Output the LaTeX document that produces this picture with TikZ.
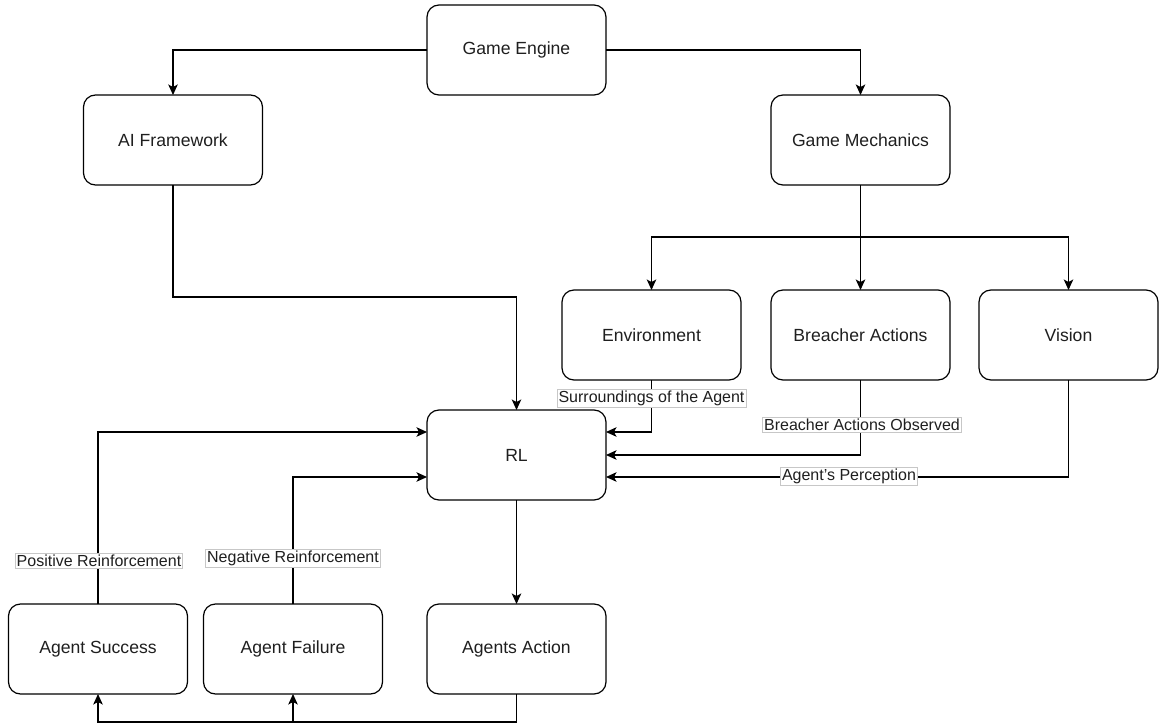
\documentclass[tikz,border=0pt]{standalone}
\usepackage{fontspec}
\setmainfont{Liberation Sans}
\usetikzlibrary{arrows.meta}
\tikzset{
  box/.style={draw=black, line width=1.2pt, rounded corners=12pt, minimum width=179pt, minimum height=90pt, inner sep=0pt, outer sep=0pt, fill=white, font=\fontsize{17.6}{21}\selectfont, text=black!88},
  conn/.style={draw=black, line width=1.2pt},
  arr/.style={conn, -{Stealth[length=10.5pt, width=9.5pt, inset=2.5pt]}},
  lbl/.style={draw=black!22, line width=0.6pt, fill=white, inner xsep=1.5pt, inner ysep=1.5pt, font=\fontsize{16}{18}\selectfont, text=black!88}
}
\begin{document}
\begin{tikzpicture}[x=1pt, y=-1pt]
\useasboundingbox (0,0) rectangle (1160,725);
\fill[white] (0,0) rectangle (1160,725);

\node[box] (ge) at (516.5,50) {Game Engine};
\node[box] (ai) at (173,140) {AI Framework};
\node[box] (gm) at (860.5,140) {Game Mechanics};
\node[box] (env) at (651.5,335) {Environment};
\node[box] (ba) at (860.5,335) {Breacher Actions};
\node[box] (vis) at (1068.5,335) {Vision};
\node[box] (rl) at (516.5,455) {RL};
\node[box] (as) at (98,649) {Agent Success};
\node[box] (af) at (293,649) {Agent Failure};
\node[box] (aa) at (516.5,649) {Agents Action};

\coordinate (aiturn) at (173,297);
\coordinate (gmsplit) at (860.5,237);
\coordinate (bot) at (516.5,722);

% Game Engine
\draw[arr] (ge.west) -| (ai.north);
\draw[arr] (ge.east) -| (gm.north);
% AI framework to RL
\draw[arr] (ai.south) -- (aiturn) -| (rl.north);
% Game mechanics splits
\draw[conn] (gm.south) -- (gmsplit);
\draw[arr] (gmsplit) -| (env.north);
\draw[arr] (gmsplit) -- (ba.north);
\draw[arr] (gmsplit) -| (vis.north);
% into RL right
\draw[arr] (env.south) |- ([yshift=23pt]rl.east);
\draw[arr] (ba.south) |- (rl.east);
\draw[arr] (vis.south) |- ([yshift=-22pt]rl.east);
% into RL left
\draw[arr] (as.north) |- ([yshift=23pt]rl.west);
\draw[arr] (af.north) |- ([yshift=-22pt]rl.west);
% RL to Agents Action
\draw[arr] (rl.south) -- (aa.north);
% Agents action back
\draw[conn] (aa.south) -- (bot);
\draw[arr] (bot) -| (as.south);
\draw[arr] (bot) -| (af.south);

% labels
\node[lbl] (l1) at (651.5,398) {Surroundings of the Agent};
\node[lbl] (l2) at (862,425) {Breacher Actions Observed};
\node[lbl] (l3) at (849,476.5) {Agent's Perception};
\node[lbl] (l4) at (99,561) {Positive Reinforcement};
\node[lbl] (l5) at (293,558) {Negative Reinforcement};
\end{tikzpicture}
\end{document}
